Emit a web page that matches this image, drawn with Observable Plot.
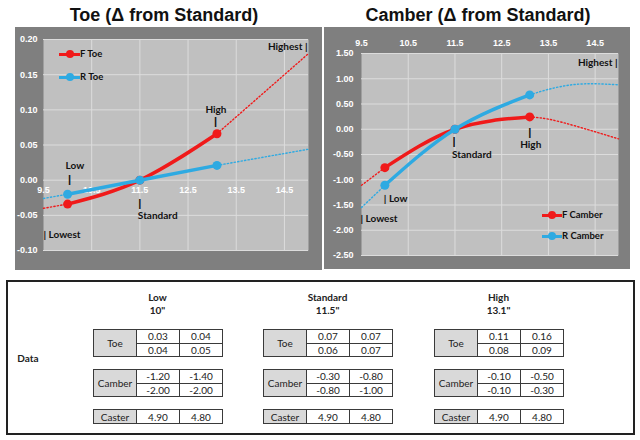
<!DOCTYPE html>
<html><head><meta charset="utf-8">
<script src="https://cdn.jsdelivr.net/npm/d3@7"></script>
<script src="https://cdn.jsdelivr.net/npm/@observablehq/plot@0.6"></script>
<style>
body{margin:0;background:#fff;}
#root{position:relative;width:640px;height:440px;overflow:hidden;font-family:"Liberation Sans",Arial,sans-serif;}
.abs{position:absolute;}
.title{position:absolute;font-weight:bold;font-size:18px;color:#111;white-space:nowrap;transform:translate(-50%,-50%);}
.leg{position:absolute;font-family:Lato,sans-serif;font-weight:bold;font-size:9.5px;color:#111;white-space:nowrap;}
.cell{position:absolute;box-sizing:border-box;border:1px solid #3a3a3a;font-family:Lato,sans-serif;font-size:10px;color:#222;display:flex;align-items:center;justify-content:center;background:#fff;}
.lab{background:#d9d9d9;}
.hdr{position:absolute;font-family:Lato,sans-serif;font-weight:bold;font-size:10px;color:#222;transform:translate(-50%,-50%);white-space:nowrap;}
</style></head><body><div id="root"></div>
<script>
// ---------- data ----------
const rideHeights = [10, 11.5, 13.1];
const xTicks = [9.5, 10.5, 11.5, 12.5, 13.5, 14.5];
const toeYTicks = [-0.10, -0.05, 0.00, 0.05, 0.10, 0.15, 0.20];
const camberYTicks = [-2.5, -2.0, -1.5, -1.0, -0.5, 0.0, 0.5, 1.0, 1.5];

const fToe = [-0.034, 0, 0.066];
const rToe = [-0.020, 0, 0.021];
const trendLeftX = [9.5, 10];
const fToeLeft = [-0.040, -0.034];
const rToeLeft = [-0.026, -0.020];
const toeRightX = [13.1, 15];
const fToeRight = [0.066, 0.180];
const rToeRight = [0.021, 0.044];

const fCamber = [-0.76, 0, 0.244];
const rCamber = [-1.11, 0, 0.68];
const fCamberLeft = [-1.11, -0.76];
const rCamberLeft = [-1.55, -1.11];
const camberRightX = [13.1, 13.5, 14, 14.5, 15];
const fCamberRight = [0.244, 0.20, 0.085, -0.05, -0.19];
const rCamberRight = [0.68, 0.79, 0.88, 0.90, 0.88];

const tableCols = ["Low", "Standard", "High"];
const tableHeights = ['10"', '11.5"', '13.1"'];
const toeTable = [[[0.03, 0.04], [0.04, 0.05]], [[0.07, 0.07], [0.06, 0.07]], [[0.11, 0.16], [0.08, 0.09]]];
const camberTable = [[[-1.20, -1.40], [-2.00, -2.00]], [[-0.30, -0.80], [-0.80, -1.00]], [[-0.10, -0.50], [-0.10, -0.30]]];
const casterTable = [[4.90, 4.80], [4.90, 4.80], [4.90, 4.80]];

// ---------- styles ----------
const RED = "#f01a1a", BLUE = "#2eaae2";
const root = document.getElementById("root");
const fmt2 = d => d.toFixed(2);

function note(text, x, y, dx, dy, anchor) {
  return Plot.text([text], {x: [x], y: [y], text: d => d, dx, dy, textAnchor: anchor,
    fill: "#111", fontFamily: "Lato, sans-serif", fontWeight: "bold", fontSize: 10});
}
function bar(x, y, dx, dy) {
  return Plot.text(["|"], {x: [x], y: [y], text: d => d, dx, dy, fill: "#111",
    fontFamily: "Liberation Sans, Arial", fontWeight: "bold", fontSize: 11});
}
function dotted(ys, xs, color) {
  return Plot.line(ys, {x: xs, y: ys, stroke: color, strokeWidth: 1.4, strokeDasharray: "1.3,2.2", curve: "natural"});
}
function solid(ys, color) {
  return [
    Plot.line(ys, {x: rideHeights, y: ys, stroke: color, strokeWidth: 3.5, curve: "natural"}),
    Plot.dot(ys, {x: rideHeights, y: ys, fill: color, r: 4.5})
  ];
}
const baseStyle = {background: "#7f7f7f", color: "white", fontFamily: "Liberation Sans, Arial, sans-serif",
  fontSize: "9px", fontWeight: "bold", overflow: "visible"};

// ---------- Toe ----------
const toe = Plot.plot({
  width: 307, height: 243,
  marginLeft: 28, marginRight: 14, marginTop: 12, marginBottom: 20,
  x: {domain: [9.5, 15], axis: null},
  y: {domain: [-0.10, 0.20]},
  style: baseStyle,
  marks: [
    Plot.frame({fill: "#c0c0c0", stroke: null}),
    Plot.gridX(xTicks.slice(1), {stroke: "#dcdcdc", strokeOpacity: 1}),
    Plot.gridY(toeYTicks, {stroke: "#dcdcdc", strokeOpacity: 1}),
    Plot.axisY(toeYTicks, {tickSize: 0, tickPadding: 6, tickFormat: fmt2, label: null}),
    Plot.text(xTicks, {x: d => d, y: 0, dy: 10, text: d => String(d), fill: "white",
      fontFamily: "Liberation Sans, Arial", fontWeight: "bold", fontSize: 9}),
    dotted(fToeLeft, trendLeftX, RED),
    dotted(rToeLeft, trendLeftX, BLUE),
    dotted(fToeRight, toeRightX, RED),
    dotted(rToeRight, toeRightX, BLUE),
    ...solid(fToe, RED),
    ...solid(rToe, BLUE),
    note("Low", rideHeights[0], rToe[0], -2, -28, "start"),
    bar(rideHeights[0], rToe[0], 2, -15),
    bar(rideHeights[1], rToe[1], 0, 23),
    note("Standard", rideHeights[1], rToe[1], -2, 36, "start"),
    bar(rideHeights[2], fToe[2], -1.5, -12),
    note("High", rideHeights[2], fToe[2], -1, -24, "middle"),
    note("Highest |", 15, fToeRight[1], -1, -7, "end"),
    note("| Lowest", 9.5, fToeLeft[0], 0, 26, "start")
  ]
});
toe.style.position = "absolute"; toe.style.left = "15px"; toe.style.top = "27px";
root.appendChild(toe);

// ---------- Camber ----------
const camber = Plot.plot({
  width: 306, height: 242,
  marginLeft: 37, marginRight: 12, marginTop: 26, marginBottom: 14,
  x: {domain: [9.5, 15]},
  y: {domain: [-2.5, 1.5]},
  style: baseStyle,
  marks: [
    Plot.frame({fill: "#c0c0c0", stroke: null}),
    Plot.gridX(xTicks.slice(1), {stroke: "#dcdcdc", strokeOpacity: 1}),
    Plot.gridY(camberYTicks, {stroke: "#dcdcdc", strokeOpacity: 1}),
    Plot.axisY(camberYTicks, {tickSize: 0, tickPadding: 8, tickFormat: fmt2, label: null}),
    Plot.axisX(xTicks, {anchor: "top", tickSize: 0, tickPadding: 8, tickFormat: d => String(d), label: null}),
    dotted(fCamberLeft, trendLeftX, RED),
    dotted(rCamberLeft, trendLeftX, BLUE),
    dotted(fCamberRight, camberRightX, RED),
    dotted(rCamberRight, camberRightX, BLUE),
    ...solid(fCamber, RED),
    ...solid(rCamber, BLUE),
    bar(rideHeights[1], rCamber[1], -1, 12),
    note("Standard", rideHeights[1], rCamber[1], -3, 26, "start"),
    bar(rideHeights[2], fCamber[2], 0, 16),
    note("High", rideHeights[2], fCamber[2], 1, 28, "middle"),
    note("| Low", rideHeights[0], rCamber[0], -1, 13, "start"),
    note("Highest |", 15, rCamberRight[4], -1, -22, "end"),
    note("| Lowest", 9.5, rCamberLeft[0], -1, 11, "start")
  ]
});
camber.style.position = "absolute"; camber.style.left = "324px"; camber.style.top = "27px";
root.appendChild(camber);

// ---------- titles ----------
function addTitle(text, cx, cy) {
  const d = document.createElement("div"); d.className = "title"; d.textContent = text;
  d.style.left = cx + "px"; d.style.top = cy + "px"; root.appendChild(d);
}
addTitle("Toe (\u0394 from Standard)", 164, 15);
addTitle("Camber (\u0394 from Standard)", 478, 15);

// ---------- legends ----------
function legendItem(label, color, x0, x1, y) {
  const line = document.createElement("div"); line.className = "abs";
  Object.assign(line.style, {left: x0 + "px", top: (y - 1.5) + "px", width: (x1 - x0) + "px", height: "3px", background: color});
  const dot = document.createElement("div"); dot.className = "abs";
  const cx = (x0 + x1) / 2;
  Object.assign(dot.style, {left: (cx - 4) + "px", top: (y - 4) + "px", width: "8px", height: "8px", borderRadius: "50%", background: color});
  const t = document.createElement("div"); t.className = "leg"; t.textContent = label;
  Object.assign(t.style, {left: x1 + "px", top: (y - 6.5) + "px"});
  root.appendChild(line); root.appendChild(dot); root.appendChild(t);
}
legendItem("F Toe", RED, 59, 80, 54);
legendItem("R Toe", BLUE, 59, 80, 77);
legendItem("F Camber", RED, 542, 562, 215);
legendItem("R Camber", BLUE, 542, 562, 236);

// ---------- data table ----------
const box = document.createElement("div"); box.className = "abs";
Object.assign(box.style, {left: "6px", top: "280px", width: "629px", height: "155px", border: "2px solid #222", boxSizing: "border-box"});
root.appendChild(box);
const dataLab = document.createElement("div"); dataLab.className = "hdr"; dataLab.textContent = "Data";
Object.assign(dataLab.style, {left: "28px", top: "358px"}); root.appendChild(dataLab);

function cell(text, l, t, w, h, cls) {
  const c = document.createElement("div"); c.className = "cell" + (cls ? " " + cls : "");
  c.textContent = text;
  Object.assign(c.style, {left: l + "px", top: t + "px", width: w + "px", height: h + "px"});
  root.appendChild(c);
}
const groupLefts = [93, 263, 434];
const cw = 43;
tableCols.forEach((name, g) => {
  const L = groupLefts[g], cx = L + 64.5;
  const h1 = document.createElement("div"); h1.className = "hdr"; h1.textContent = name;
  Object.assign(h1.style, {left: cx + "px", top: "297px"}); root.appendChild(h1);
  const h2 = document.createElement("div"); h2.className = "hdr"; h2.textContent = tableHeights[g];
  Object.assign(h2.style, {left: cx + "px", top: "310px"}); root.appendChild(h2);
  [["Toe", toeTable, 329], ["Camber", camberTable, 369]].forEach(([lab, tbl, top]) => {
    cell(lab, L, top, cw + 1, 28, "lab");
    tbl[g].forEach((row, r) => row.forEach((v, c) => {
      cell(fmt2(v), L + cw * (c + 1), top + r * 13.5, cw + 1, 14.5);
    }));
  });
  cell("Caster", L, 409, cw + 1, 15, "lab");
  casterTable[g].forEach((v, c) => cell(fmt2(v), L + cw * (c + 1), 409, cw + 1, 15));
});
</script></body></html>
